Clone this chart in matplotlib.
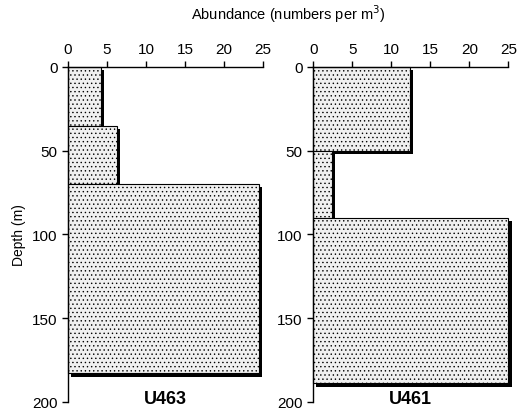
import matplotlib.pyplot as plt
from matplotlib.patches import Rectangle

plt.rcParams['font.family'] = ['Liberation Sans', 'DejaVu Sans']
plt.rcParams['hatch.color'] = '#a8a8a8'
plt.rcParams['hatch.linewidth'] = 0.5

# depth intervals (m) and abundance (numbers per m^3)
u463_top = [0, 35, 70]
u463_bottom = [35, 70, 183]
u463_abund = [4.2, 6.3, 24.5]

u461_top = [0, 50, 90]
u461_bottom = [50, 90, 189]
u461_abund = [12.4, 2.4, 25.0]

x_ticks = [0, 5, 10, 15, 20, 25]
y_ticks = [0, 50, 100, 150, 200]


def draw_panel(ax, tops, bottoms, values, label):
    for t, b, v in zip(tops, bottoms, values):
        # drop shadow
        ax.add_patch(Rectangle((0.4, t + 2), v, b - t, facecolor='black',
                               edgecolor='none', zorder=1, clip_on=False))
        ax.add_patch(Rectangle((0, t), v, b - t, facecolor='#f0f0f0',
                               edgecolor='black', linewidth=0.8,
                               hatch='....', zorder=2, clip_on=False))
    ax.set_xlim(0, 25)
    ax.set_ylim(200, 0)
    ax.xaxis.tick_top()
    ax.set_xticks(x_ticks)
    ax.set_yticks(y_ticks)
    ax.tick_params(labelsize=11, width=1, length=4)
    ax.spines['right'].set_visible(False)
    ax.spines['bottom'].set_visible(False)
    ax.spines['top'].set_linewidth(1)
    ax.spines['left'].set_linewidth(1)
    ax.text(12.5, 198, label, ha='center', va='center', fontsize=13,
            fontweight='bold', clip_on=False)


fig = plt.figure(figsize=(5.22, 4.14), dpi=100)
ax1 = fig.add_axes([0.130, 0.027, 0.374, 0.809])
ax2 = fig.add_axes([0.600, 0.027, 0.374, 0.809])

draw_panel(ax1, u463_top, u463_bottom, u463_abund, 'U463')
draw_panel(ax2, u461_top, u461_bottom, u461_abund, 'U461')

ax1.set_ylabel('Depth (m)', fontsize=10, labelpad=4)
fig.text(0.552, 0.966, 'Abundance (numbers per m$^3$)', ha='center',
         va='center', fontsize=10.5)

fig.savefig('out.png', dpi=100)
